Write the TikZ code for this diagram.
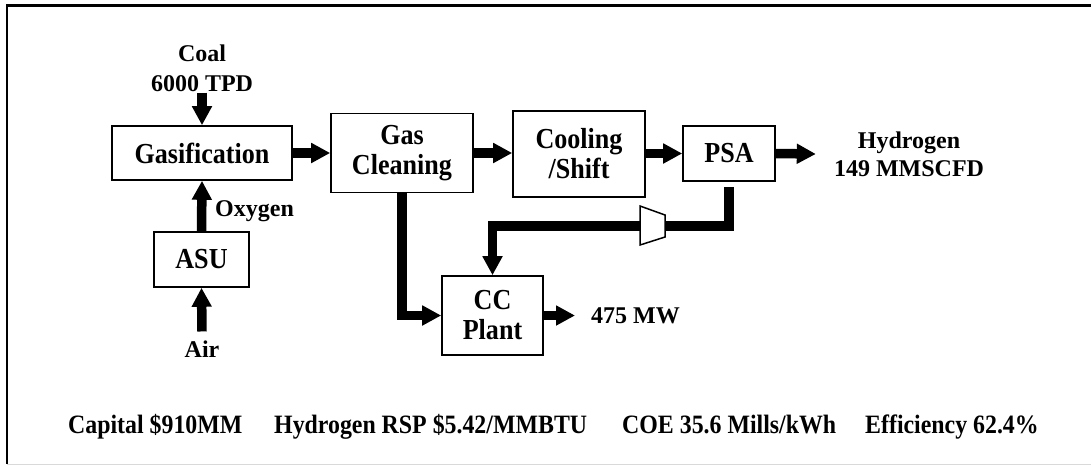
\documentclass[tikz,border=0pt]{standalone}
\usepackage{fontspec}
\setmainfont{Liberation Serif}
\newfontfamily\condfont{Liberation Serif}[FakeStretch=0.9]
\usetikzlibrary{arrows.meta}
\begin{document}
\begin{tikzpicture}[x=1pt,y=-1pt,
  box/.style={draw, line width=1.6pt, align=center, inner sep=0pt,
    font=\condfont\fontsize{29}{30}\selectfont\bfseries},
  lbl/.style={align=center, inner sep=0pt,
    font=\fontsize{24}{28}\selectfont\bfseries},
  bot/.style={inner sep=0pt, font=\condfont\fontsize{26.5}{28}\selectfont\bfseries},
  flow/.style={line width=9.5pt, -{Triangle[length=19pt,width=19pt]}},
  pipe/.style={line width=9.5pt},
  comp/.style={line width=1.5pt, fill=white, line join=miter}
]
\useasboundingbox (0,0) rectangle (1091,466);
% frame
\draw[line width=2.6pt] (1091,5.5) -- (7,5.5) -- (7,464);
\draw[line width=1pt, black!15] (7,464) -- (1091,464);

% boxes
\node[box, minimum width=180pt, minimum height=54pt] (gas) at (202,153) {Gasification};
\node[box, minimum width=142pt, minimum height=79pt] (gc) at (402,153) {Gas\\Cleaning};
\node[box, minimum width=132pt, minimum height=86pt] (cool) at (579,154) {Cooling\\/Shift};
\node[box, minimum width=92pt, minimum height=55pt] (psa) at (729,153.5) {PSA};
\node[box, minimum width=101pt, minimum height=79pt] (cc) at (492.5,315.5) {CC\\Plant};
\node[box, minimum width=95pt, minimum height=55pt] (asu) at (201.5,259.5) {ASU};

% labels
\node[lbl, font=\fontsize{24}{30}\selectfont\bfseries] (coal) at (202,68) {Coal\\6000 TPD};
\node[lbl, anchor=west] (oxy) at (215,211) {Oxygen};
\node[lbl] (air) at (202,349) {Air};
\node[lbl] (h2) at (909,154) {Hydrogen\\149 MMSCFD};
\node[lbl, anchor=west] (mw) at (591,315.5) {475 MW};

% compressor
\coordinate (compR) at (665,226);
\coordinate (compL) at (640,226);

% flows
\draw[flow] ([yshift=-1pt]coal.south) -- (gas.north);
\draw[flow] (asu.north) -- (gas.south);
\draw[flow] ([yshift=9pt]air.north) -- (asu.south);
\draw[flow] (gas.east) -- (gas.east -| gc.west);
\draw[flow] (gc.east) -- (gc.east -| cool.west);
\draw[flow] (psa.west -| cool.east) -- (psa.west);
\draw[flow] (psa.east) -- ([xshift=-18pt]h2.west);
\draw[flow] (cc.east) -- ([xshift=-16pt]mw.west);
\draw[flow] (gc.south) |- (cc.west);
\draw[pipe] ([yshift=-5pt]psa.south) |- (compR);
\draw[flow] (compL) -| (cc.north);
\draw[comp] (640,206) -- (665,215) -- (665,237) -- (640,245) -- cycle;

% bottom figures
\node[bot, anchor=base west] (capital) at (68,433) {Capital \$910MM};
\node[bot, anchor=base west] (rsp) at (274,433) {Hydrogen RSP \$5.42/MMBTU};
\node[bot, anchor=base west] (coe) at (622,433) {COE 35.6 Mills/kWh};
\node[bot, anchor=base west] (eff) at (865,433) {Efficiency 62.4\%};
\end{tikzpicture}
\end{document}
